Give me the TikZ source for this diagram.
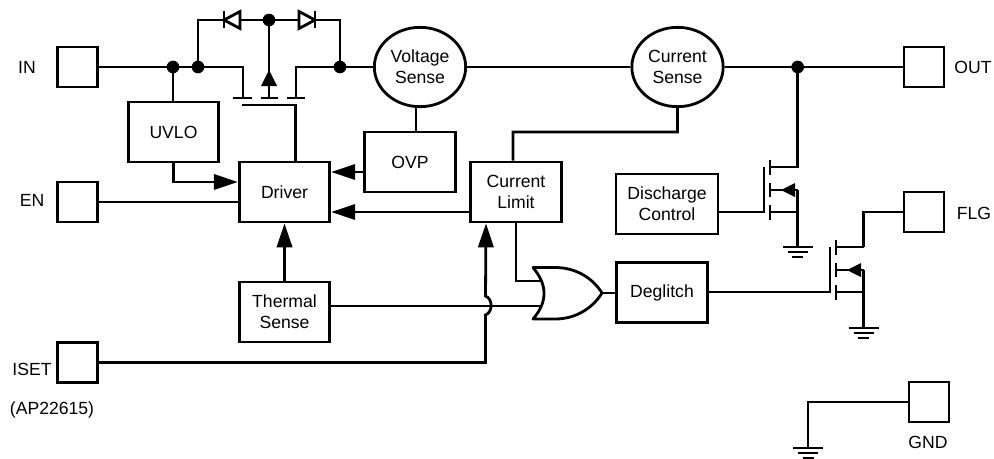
\documentclass[tikz,border=0pt]{standalone}
\usepackage{fontspec}
\setmainfont{Liberation Sans}
\usetikzlibrary{arrows.meta}
\usetikzlibrary{shapes.geometric}
\tikzset{
 wire/.style={black,line width=2.1pt},
 flow/.style={wire,-{Triangle[length=18pt,width=11.5pt]}},
 blockbox/.style={draw,line width=2.1pt,inner sep=0,align=center,minimum width=68pt,minimum height=45pt},
 padbox/.style={draw,line width=2.1pt,minimum size=30pt,inner sep=0},
 sensor/.style={draw,ellipse,line width=2.1pt,inner sep=0,align=center,minimum width=68.5pt,minimum height=59.5pt},
 dot/.style={circle,fill=black,inner sep=0,minimum size=9.5pt},
 lbl/.style={inner sep=0,align=center},
}
\begin{document}
\begin{tikzpicture}[x=.75pt,y=-.75pt,font=\fontsize{13.2}{15.8}\selectfont]
\useasboundingbox (0,0) rectangle (994,458);
% pads
\node[padbox] (in) at (77.5,67) {};
\node[padbox] (en) at (77.5,202) {};
\node[padbox] (iset) at (77.5,362.5) {};
\node[padbox] (out) at (924,67) {};
\node[padbox] (flg) at (924,212) {};
\node[padbox] (gnd) at (929,402) {};
\node[lbl] (inlbl) at (27,67) {IN};
\node[lbl] (enlbl) at (32,200) {EN};
\node[lbl] (isetlbl) at (32,369) {ISET};
\node[lbl] (partlbl) at (52,410) {(AP22615)};
\node[lbl] (outlbl) at (973,67) {OUT};
\node[lbl] (flglbl) at (974,213) {FLG};
\node[lbl] (gndlbl) at (928,442) {GND};
% blocks
\node[blockbox] (uvlo) at (173.5,132) {UVLO};
\node[blockbox] (driver) at (284.5,192) {Driver};
\node[blockbox] (ovp) at (410,162) {OVP};
\node[blockbox] (climit) at (516,192) {Current\\Limit};
\node[blockbox] (thermal) at (284.5,312) {Thermal\\Sense};
\node[blockbox,minimum width=76.5pt] (discharge) at (667,204) {Discharge\\Control};
\node[blockbox] (deglitch) at (662,292.5) {Deglitch};
\node[sensor] (vsense) at (420,67) {Voltage\\Sense};
\node[sensor] (isense) at (677.5,67) {Current\\Sense};
% junctions
\node[dot] (jin) at (173,67) {};
\node[dot] (jsrc) at (198,67) {};
\node[dot] (jdrn) at (340,67) {};
\node[dot] (jtop) at (269,20) {};
\node[dot] (jout) at (797.7,67) {};
\coordinate (gleft) at (242,105);
\coordinate (gright) at (295.7,105);
\coordinate (orin1) at (541.5,281);
\coordinate (orin2) at (540,306);
\coordinate (orout) at (602,293);
\coordinate (hopa) at (485.5,315);
\coordinate (hopb) at (485.5,296);
% input side
\draw[wire] (in.east) -- (jin.center) -- (jsrc.center) -- (243,67) -- (243,98);
\draw[wire] (jin.center) -- (uvlo.north -| jin);
\draw[wire] (jsrc.center) |- (jtop.center) -| (jdrn.center);
\draw[wire] (jdrn.center) -- (296,67) -- (296,98);
\draw[wire] (jtop.center) -- (269,98);
\draw[wire] (233,98) -- (252,98) (261,98) -- (278,98) (287,98) -- (305,98);
\fill (269,70) -- (277,86) -- (261,86) -- cycle;
\draw[wire] (gleft) -- (gright) -- (driver.north -| gright);
% body diodes
\draw[wire,fill=white] (224,20) -- (240,11.5) -- (240,28.5) -- cycle;
\draw[wire] (224,11) -- (224,28);
\draw[wire,fill=white] (315,20) -- (299,11.5) -- (299,28.5) -- cycle;
\draw[wire] (315,11) -- (315,28);
% main line
\draw[wire] (jdrn.center) -- (vsense.west);
\draw[wire] (vsense.east) -- (isense.west);
\draw[wire] (isense.east) -- (jout.center) -- (out.west);
\draw[wire] ([xshift=-3pt]vsense.south) -- ([xshift=4.5pt]ovp.north);
\draw[wire] (isense.south) |- (513,132) -- ([xshift=-2.2pt]climit.north);
% driver inputs
\draw[flow] (uvlo.south) |- ([yshift=7.5pt]driver.west);
\draw[wire] (en.east) -- (en.east -| driver.west);
\draw[flow] ([yshift=-7.5pt]ovp.west) -- ([yshift=15pt]driver.east);
\draw[flow] ([yshift=-15pt]climit.west) -- ([yshift=-15pt]driver.east);
\draw[flow] (thermal.north) -- (driver.south);
\draw[flow] (iset.east) -| (hopa) .. controls (493,312) and (493,299) .. (hopb) -- ([xshift=-22.5pt]climit.south);
% or gate
\draw[wire,fill=white,line join=round] (533,267.5) -- (555,267.5) .. controls (578,267.5) and (594,280) .. (orout)
 .. controls (594,306) and (578,319) .. (555,319) -- (533,319) .. controls (547.7,302) and (547.7,285) .. cycle;
\draw[wire] (climit.south) |- (orin1);
\draw[wire] (thermal.east |- orin2) -- (orin2);
\draw[wire] (orout) -- (deglitch.west |- orout);
% low side switches
\foreach \fet/\gx/\gy/\src in {qdis/764/212/discharge,qflg/830/292/deglitch} {
 \coordinate (\fet g) at (\gx,\gy);
 \draw[wire] (\src.east |- \fet g) -- (\fet g) -- (\gx,\gy-45);
 \draw[wire] (\gx+6,\gy-52) --++(0,15) (\gx+6,\gy-29) --++(0,14) (\gx+6,\gy-7) --++(0,15);
 \draw[wire] (\gx+6,\gy-45) --++(27.7,0) (\gx+6,\gy) --++(27.7,0) (\gx+6,\gy-22) --++(27.7,0);
 \fill (\gx+17,\gy-22) -- (\gx+31,\gy-29) -- (\gx+31,\gy-15) -- cycle;
}
\draw[wire] (jout.center) |- (764+6,167);
\draw[wire] (797.7,190) -- (797.7,247);
\draw[wire] (flg.west) -| (863.7,247);
\draw[wire] (863.7,270) -- (863.7,328);
\draw[wire] (gnd.west) -| (808,448);
% grounds
\foreach \gndx/\gndy in {797.7/247,863.7/328,808/448} {
 \draw[wire] (\gndx-15,\gndy) --++(30,0);
 \draw[wire] (\gndx-10,\gndy+5) --++(20,0);
 \draw[wire] (\gndx-5.5,\gndy+10) --++(11,0);
}
\end{tikzpicture}
\end{document}
